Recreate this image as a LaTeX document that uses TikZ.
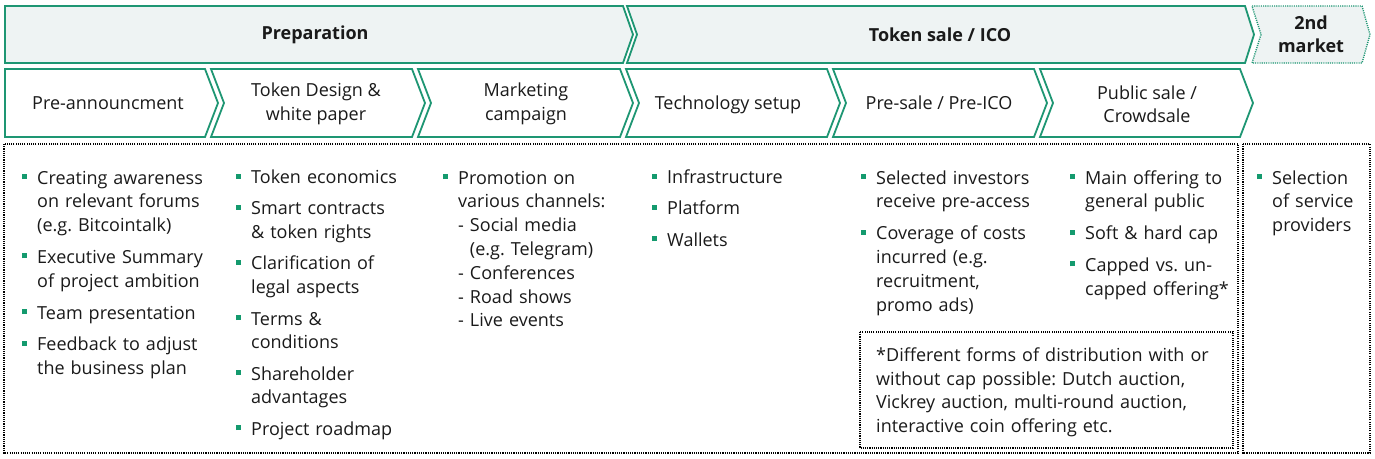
\documentclass[tikz,border=0pt]{standalone}
\usepackage{fontspec}
\setmainfont{Open Sans}
\usepackage{xcolor}
\frenchspacing
\definecolor{cgreen}{RGB}{30,150,115}
\definecolor{bgreen}{RGB}{20,154,110}
\definecolor{topfill}{RGB}{238,243,243}
\definecolor{txt}{RGB}{26,26,26}
\newcommand\bsq{\textcolor{bgreen}{\rule[5pt]{5pt}{5pt}}}
\newcommand\bitem[1]{\par\hangindent=15pt\hangafter=1\noindent\makebox[15pt][l]{\bsq}\rule{0pt}{14pt}#1\par}
\begin{document}
\begin{tikzpicture}[x=1pt,y=-1pt,
  phase/.style={draw=cgreen,line width=1.8pt,fill=topfill,line join=miter},
  stepchev/.style={draw=cgreen,line width=1.8pt,fill=white,line join=miter},
  dotbox/.style={draw=black,line width=1.4pt,dash pattern=on 1.1pt off 1.1pt},
  hdr/.style={font=\fontsize{18}{23}\selectfont\bfseries,text=txt,align=center,inner sep=0},
  lbl/.style={font=\fontsize{18}{23.5}\selectfont,text=txt,align=center,inner sep=0},
  col/.style={font=\fontsize{18}{23.8}\selectfont,text=txt,align=left,inner sep=0,anchor=north west}
]
\useasboundingbox (0,0) rectangle (1375,458);
% top phase chevrons
\draw[phase] (5,6) -- (623,6) -- (633,34.5) -- (623,63) -- (5,63) -- cycle;
\draw[phase] (627,6) -- (1245,6) -- (1254,34.5) -- (1245,63) -- (627,63) -- (637,34.5) -- cycle;
\draw[draw=cgreen,line width=1.4pt,dash pattern=on 1.1pt off 1.1pt,fill=topfill]
  (1252,6) -- (1362,6) -- (1370,34.5) -- (1362,63) -- (1252,63) -- (1261,34.5) -- cycle;
\node[hdr] (prep) at (315,34.5) {Preparation};
\node[hdr] (ico) at (940,34.5) {Token sale / ICO};
\node[hdr] (sec) at (1311,34.5) {2nd\\market};
% step chevrons
\draw[stepchev] (5,69) -- (205,69) -- (218,103) -- (205,137) -- (5,137) -- cycle;
\draw[stepchev] (211,69) -- (412,69) -- (425,103) -- (412,137) -- (211,137) -- (224,103) -- cycle;
\draw[stepchev] (418,69) -- (620,69) -- (633,103) -- (620,137) -- (418,137) -- (431,103) -- cycle;
\draw[stepchev] (626,69) -- (827,69) -- (840,103) -- (827,137) -- (626,137) -- (639,103) -- cycle;
\draw[stepchev] (833,69) -- (1034,69) -- (1047,103) -- (1034,137) -- (833,137) -- (846,103) -- cycle;
\draw[stepchev] (1040,69) -- (1240,69) -- (1253,103) -- (1240,137) -- (1040,137) -- (1053,103) -- cycle;
\node[lbl,anchor=base] (s1) at (108,109.5) {Pre-announcment};
\node[lbl] (s2) at (316,104) {Token Design \&\\white paper};
\node[lbl] (s3) at (526,104) {Marketing\\campaign};
\node[lbl,anchor=base] (s4) at (728,109.5) {Technology setup};
\node[lbl,anchor=base] (s5) at (939,109.5) {Pre-sale / Pre-ICO};
\node[lbl] (s6) at (1147,104) {Public sale /\\Crowdsale};
% dotted content boxes
\draw[dotbox] (4,144) rectangle (1238,453);
\draw[dotbox] (1243,144) rectangle (1370,453);
\draw[dotbox] (860,332) rectangle (1233,448);
% columns
\node[col,text width=205pt] (c1) at (22,152) {\setlength{\parskip}{8pt}%
\bitem{Creating awareness\newline on relevant forums\newline (e.g. Bitcointalk)}
\bitem{Executive Summary\newline of project ambition}
\bitem{Team presentation}
\bitem{Feedback to adjust\newline the business plan}};
\node[col,text width=200pt] (c2) at (236,152) {\setlength{\parskip}{7.5pt}%
\bitem{Token economics}
\bitem{Smart contracts\newline \& token rights}
\bitem{Clarification of\newline legal aspects}
\bitem{Terms \&\newline conditions}
\bitem{Shareholder\newline advantages}
\bitem{Project roadmap}};
\node[col,text width=200pt] (c3) at (443,152) {\setlength{\parskip}{8pt}%
\bitem{Promotion on\newline various channels:\newline - Social media\newline \hphantom{- }(e.g. Telegram)\newline - Conferences\newline - Road shows\newline - Live events}};
\node[col,text width=200pt] (c4) at (652,152) {\setlength{\parskip}{7.5pt}%
\bitem{Infrastructure}
\bitem{Platform}
\bitem{Wallets}};
\node[col,text width=205pt] (c5) at (861,152) {\setlength{\parskip}{8pt}%
\bitem{Selected investors\newline receive pre-access}
\bitem{Coverage of costs\newline incurred (e.g.\newline recruitment,\newline promo ads)}};
\node[col,text width=175pt] (c6) at (1070,152) {\setlength{\parskip}{8pt}%
\bitem{Main offering to\newline general public}
\bitem{Soft \& hard cap}
\bitem{Capped vs. un-\newline capped offering*}};
\node[col,text width=120pt] (c7) at (1257,152) {\setlength{\parskip}{8pt}%
\bitem{Selection\newline of service\newline providers}};
\node[col,text width=360pt] (fn) at (876,347) {\rule{0pt}{14pt}*Different forms of distribution with or\newline without cap possible: Dutch auction,\newline Vickrey auction, multi-round auction,\newline interactive coin offering etc.};
\end{tikzpicture}
\end{document}
